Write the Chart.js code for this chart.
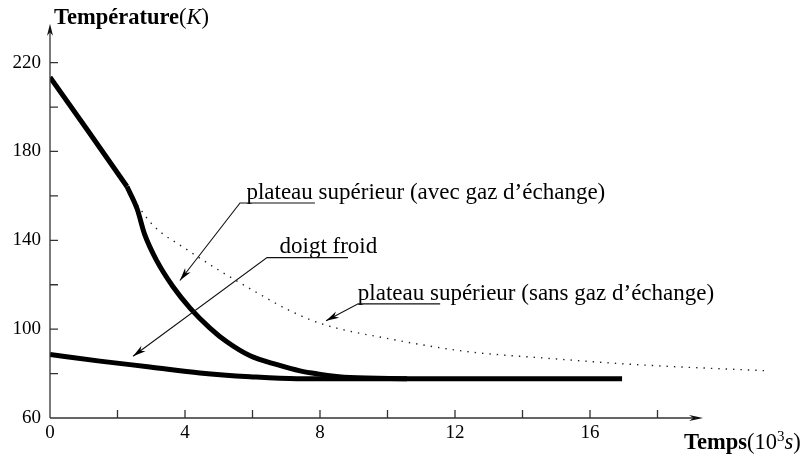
<!DOCTYPE html>
<html>
<head>
<meta charset="utf-8">
<script src="https://cdn.jsdelivr.net/npm/chart.js@4"></script>
<style>
  html, body { margin: 0; padding: 0; background: #fff; }
  #wrap { width: 803px; height: 454px; }
</style>
</head>
<body>
<div id="wrap"><canvas id="myChart" width="803" height="454"></canvas></div>
<script>
// plateau supérieur (avec gaz d'échange)
const timeAvecGaz = [0, 1.14, 2.28, 2.58, 2.81, 3.17, 3.64, 4.15, 4.74, 5.24, 5.93, 6.73, 7.41, 7.91, 8.89, 10.58];
const tempAvecGaz = [213.4, 189.0, 164.2, 154.2, 142.4, 130.6, 119.2, 109.5, 100.5, 94.3, 88.0, 84.0, 81.2, 79.9, 78.2, 77.7];
const kinkIndex = 2;

// doigt froid
const timeDoigt = [0, 1.48, 2.96, 4.44, 5.93, 7.32, 10.58, 16.95];
const tempDoigt = [88.6, 85.6, 83.0, 80.3, 78.6, 77.7, 77.7, 77.7];

// plateau supérieur (sans gaz d'échange)
const timeSansGaz = [2.46, 3.05, 4.06, 5.04, 6.01, 7.11, 8.09, 10.07, 12.36, 14.73, 16.68, 17.87, 21.33];
const tempSansGaz = [158.6, 146.8, 135.8, 126.2, 117.5, 108.3, 102.2, 95.6, 89.9, 86.9, 84.7, 83.6, 81.2];

const xTicksLabelled = [0, 4, 8, 12, 16];
const yTicksLabelled = [60, 100, 140, 180, 220];
const xAxisEnd = 19.35;
const yAxisEnd = 237.5;

// annotation texts, anchored in data units: text start, leader knee, arrow tip
const notes = [
    { text: 'plateau supérieur (avec gaz d\u2019échange)', tx: 5.82, ty: 158.8, kx: 5.63, ky: 156.8, ex: 7.85, tipX: 3.85, tipY: 121.9 },
    { text: 'doigt froid', tx: 6.8, ty: 134.5, kx: 6.43, ky: 132.2, ex: 8.83, tipX: 2.46, tipY: 87.8 },
    { text: 'plateau supérieur (sans gaz d\u2019échange)', tx: 9.12, ty: 113.2, kx: 9.13, ky: 111.4, ex: 11.56, tipX: 8.18, tipY: 103.8 }
];

const fontFamily = '"Liberation Serif", serif';

function toPoints(xs, ys) {
    return xs.map(function (x, i) { return { x: x, y: ys[i] }; });
}

function arrowHead(ctx, fromX, fromY, tipX, tipY, len, half) {
    const a = Math.atan2(tipY - fromY, tipX - fromX);
    ctx.beginPath();
    ctx.moveTo(tipX, tipY);
    ctx.lineTo(tipX - len * Math.cos(a) + half * Math.sin(a), tipY - len * Math.sin(a) - half * Math.cos(a));
    ctx.lineTo(tipX - len * 0.7 * Math.cos(a), tipY - len * 0.7 * Math.sin(a));
    ctx.lineTo(tipX - len * Math.cos(a) - half * Math.sin(a), tipY - len * Math.sin(a) + half * Math.cos(a));
    ctx.closePath();
    ctx.fill();
}

function drawRich(ctx, x, y, parts) {
    let cx = x;
    parts.forEach(function (p) {
        ctx.font = p.font;
        ctx.fillText(p.t, cx, y + (p.dy || 0));
        cx += ctx.measureText(p.t).width;
    });
}

const axesPlugin = {
    id: 'axesPlugin',
    afterDraw: function (chart) {
        const ctx = chart.ctx;
        const xs = chart.scales.x;
        const ys = chart.scales.y;
        const x0 = xs.getPixelForValue(0);
        const y0 = ys.getPixelForValue(60);
        const xEnd = xs.getPixelForValue(xAxisEnd);
        const yEnd = ys.getPixelForValue(yAxisEnd);

        ctx.save();
        ctx.strokeStyle = '#333';
        ctx.fillStyle = '#111';
        ctx.lineWidth = 1.3;

        // axes
        ctx.beginPath();
        ctx.moveTo(x0, y0);
        ctx.lineTo(x0, yEnd + 4);
        ctx.moveTo(x0, y0);
        ctx.lineTo(xEnd - 4, y0);
        ctx.stroke();
        arrowHead(ctx, x0, y0, x0, yEnd, 12, 3);
        arrowHead(ctx, x0, y0, xEnd, y0, 14, 3);

        // inner ticks
        ctx.beginPath();
        xs.ticks.forEach(function (t) {
            if (t.value > 0 && t.value < xAxisEnd) {
                const px = xs.getPixelForValue(t.value);
                ctx.moveTo(px, y0);
                ctx.lineTo(px, y0 - 8);
            }
        });
        ys.ticks.forEach(function (t) {
            if (t.value > 60 && t.value < yAxisEnd) {
                const py = ys.getPixelForValue(t.value);
                ctx.moveTo(x0, py);
                ctx.lineTo(x0 + 8, py);
            }
        });
        ctx.stroke();

        // annotations
        ctx.textBaseline = 'alphabetic';
        ctx.textAlign = 'left';
        notes.forEach(function (n) {
            ctx.fillStyle = '#000';
            ctx.font = '23px ' + fontFamily;
            ctx.fillText(n.text, xs.getPixelForValue(n.tx), ys.getPixelForValue(n.ty));
            const kx = xs.getPixelForValue(n.kx);
            const ky = ys.getPixelForValue(n.ky);
            const tx = xs.getPixelForValue(n.tipX);
            const ty = ys.getPixelForValue(n.tipY);
            ctx.strokeStyle = '#111';
            ctx.lineWidth = 1.1;
            ctx.beginPath();
            ctx.moveTo(xs.getPixelForValue(n.ex), ky);
            ctx.lineTo(kx, ky);
            ctx.lineTo(tx, ty);
            ctx.stroke();
            arrowHead(ctx, kx, ky, tx, ty, 13, 3.5);
        });

        // axis titles
        ctx.fillStyle = '#000';
        drawRich(ctx, x0 + 4, 24, [
            { t: 'Température', font: 'bold 22.5px ' + fontFamily },
            { t: '(', font: '22.5px ' + fontFamily },
            { t: 'K', font: 'italic 22.5px ' + fontFamily },
            { t: ')', font: '22.5px ' + fontFamily }
        ]);
        drawRich(ctx, 684, 449, [
            { t: 'Temps', font: 'bold 22.5px ' + fontFamily },
            { t: '(10', font: '22.5px ' + fontFamily },
            { t: '3', font: '15px ' + fontFamily, dy: -8 },
            { t: 's', font: 'italic 22.5px ' + fontFamily },
            { t: ')', font: '22.5px ' + fontFamily }
        ]);
        ctx.restore();
    }
};

document.addEventListener('DOMContentLoaded', function () {
    const ctx = document.getElementById('myChart').getContext('2d');
    const avecPoints = toPoints(timeAvecGaz, tempAvecGaz);

    const myChart = new Chart(ctx, {
        type: 'line',
        data: {
            datasets: [{
                label: 'plateau supérieur (avec gaz d\u2019échange), partie droite',
                data: avecPoints.slice(0, kinkIndex + 1),
                borderColor: '#000',
                borderWidth: 5,
                pointRadius: 0,
                tension: 0
            }, {
                label: 'plateau supérieur (avec gaz d\u2019échange)',
                data: avecPoints.slice(kinkIndex),
                borderColor: '#000',
                borderWidth: 5,
                pointRadius: 0,
                cubicInterpolationMode: 'monotone'
            }, {
                label: 'doigt froid',
                data: toPoints(timeDoigt, tempDoigt),
                borderColor: '#000',
                borderWidth: 5,
                pointRadius: 0,
                cubicInterpolationMode: 'monotone'
            }, {
                label: 'plateau supérieur (sans gaz d\u2019échange)',
                data: toPoints(timeSansGaz, tempSansGaz),
                borderColor: '#222',
                borderWidth: 1.4,
                borderDash: [1.4, 6],
                pointRadius: 0,
                cubicInterpolationMode: 'monotone'
            }]
        },
        options: {
            responsive: false,
            animation: false,
            layout: {
                padding: { top: 9, right: 10.5, bottom: 0, left: 0 }
            },
            plugins: {
                legend: { display: false },
                tooltip: { enabled: false }
            },
            scales: {
                x: {
                    type: 'linear',
                    min: 0,
                    max: 22,
                    border: { display: false },
                    grid: { display: false, drawTicks: false },
                    ticks: {
                        stepSize: 2,
                        autoSkip: false,
                        maxRotation: 0,
                        padding: 4,
                        color: '#000',
                        font: { family: fontFamily, size: 19 },
                        callback: function (value) {
                            return xTicksLabelled.includes(value) ? value : '';
                        }
                    },
                    afterFit: function (scale) {
                        scale.height = 36;
                    }
                },
                y: {
                    min: 60,
                    max: 239,
                    border: { display: false },
                    grid: { display: false, drawTicks: false },
                    ticks: {
                        stepSize: 20,
                        autoSkip: false,
                        padding: 9,
                        color: '#000',
                        font: { family: fontFamily, size: 19 },
                        callback: function (value) {
                            return yTicksLabelled.includes(value) ? value : '';
                        }
                    },
                    afterFit: function (scale) {
                        scale.width = 50;
                    }
                }
            }
        },
        plugins: [axesPlugin]
    });
});
</script>
</body>
</html>
